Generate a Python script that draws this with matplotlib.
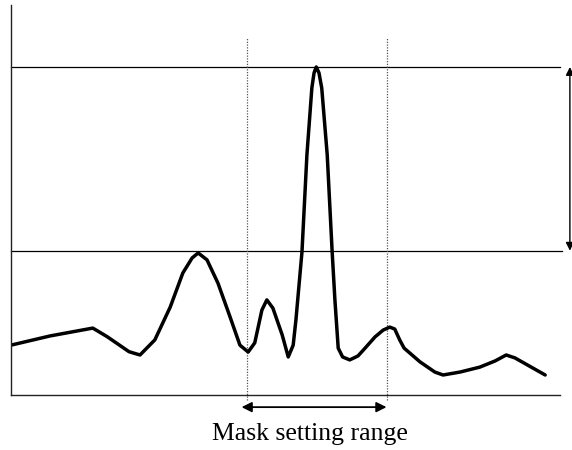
import matplotlib
matplotlib.use("Agg")
import matplotlib.pyplot as plt

# position along the sweep (0-100) and signal amplitude (upper level = 100)
pos = [0, 7.1, 14.9, 17.5, 21.5, 23.5, 26.2, 29.0, 31.3, 33.0, 34.1, 35.7,
       37.7, 39.9, 41.7, 43.2, 44.4, 45.7, 46.6, 47.7, 49.4, 50.5, 51.4,
       51.9, 53.0, 53.9, 54.8, 55.2, 55.6, 56.1, 56.6, 57.6, 58.5, 59.0,
       59.6, 60.4, 61.7, 63.2, 64.5, 66.3, 67.8, 69.0, 69.9, 70.8, 71.6,
       74.5, 77.2, 78.7, 81.8, 85.4, 88.2, 90.2, 91.8, 97.3]
amp = [15.2, 18.0, 20.4, 17.8, 13.2, 12.2, 16.8, 26.8, 37.2, 41.8, 43.3, 41.2,
       34.1, 23.8, 15.2, 13.1, 15.9, 25.9, 29.0, 26.5, 18.3, 11.6, 15.2,
       22.9, 43.6, 73.2, 93.6, 98.2, 100.0, 98.2, 93.6, 73.2, 43.6, 29.0,
       14.3, 11.6, 10.7, 11.9, 14.3, 17.7, 19.8, 20.7, 20.1, 16.8, 14.3,
       10.1, 7.0, 6.1, 7.0, 8.5, 10.4, 12.2, 11.3, 6.1]

upper_level = 100
lower_level = 44
mask_start, mask_end = 43.0, 68.5
label = "Mask setting range"

W, H = 572, 450
fig = plt.figure(figsize=(W / 100, H / 100), dpi=100)
ax = fig.add_axes([11 / W, 55 / H, 549 / W, 390 / H])
ax.set_xlim(0, 100)
ax.set_ylim(0, 390 / 3.28)
for s in ("top", "right"):
    ax.spines[s].set_visible(False)
for s in ("left", "bottom"):
    ax.spines[s].set_linewidth(1.0)
    ax.spines[s].set_color("#222222")
ax.set_xticks([])
ax.set_yticks([])

# reference levels
ax.plot([0, 100], [upper_level, upper_level], color="black", lw=0.9, clip_on=False)
ax.plot([0, 100.4], [lower_level, lower_level], color="black", lw=0.9, clip_on=False)

# mask boundaries
for xm in (mask_start, mask_end):
    ax.plot([xm, xm], [-1.5, 109], color="#555555", lw=0.9, ls=(0, (1, 1.2)),
            clip_on=False)

# signal
ax.plot(pos, amp, color="black", lw=2.5, solid_joinstyle="round",
        solid_capstyle="round")

# level difference arrow on the right
ax.annotate("", xy=(101.8, upper_level), xytext=(101.8, lower_level),
            arrowprops=dict(arrowstyle="<|-|>", color="black", lw=1.0,
                            mutation_scale=12, shrinkA=0, shrinkB=0),
            annotation_clip=False)

# mask range arrow below the axis
ax.annotate("", xy=(mask_start - 1.0, -3.7), xytext=(mask_end - 0.1, -3.7),
            arrowprops=dict(arrowstyle="<|-|>", color="black", lw=1.3,
                            mutation_scale=15, shrinkA=0, shrinkB=0),
            annotation_clip=False)
ax.text(54.5, -13.7, label, ha="center", va="baseline",
        fontsize=18.5, family="Liberation Serif", clip_on=False)

fig.savefig("out.png", dpi=100)
